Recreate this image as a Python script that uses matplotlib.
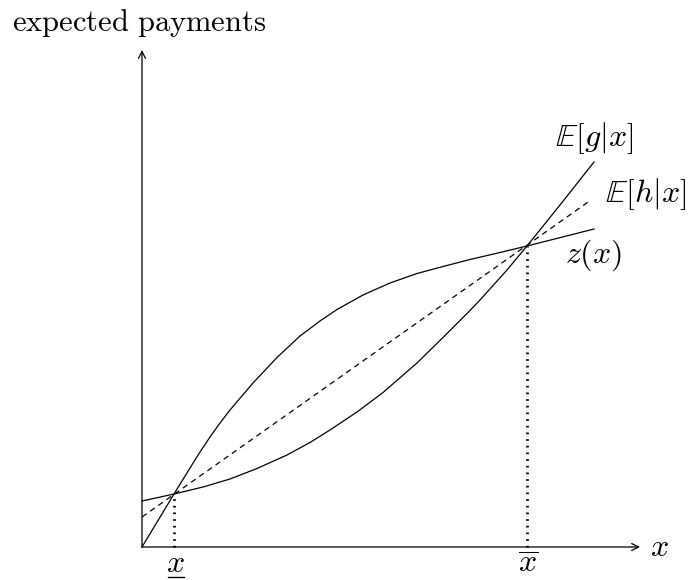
import matplotlib.pyplot as plt

plt.rcParams["mathtext.fontset"] = "cm"

# payment schedule z(x), concave, through both crossing points
z_x = [0.00, 0.32, 0.48, 0.58, 0.68, 0.78, 0.88, 1.11, 1.35, 1.58, 1.78, 1.95, 2.21, 2.48, 2.75, 3.01, 3.28, 3.58, 3.85, 4.52]
z_y = [0.00, 0.53, 0.79, 0.95, 1.10, 1.24, 1.37, 1.64, 1.895, 2.11, 2.26, 2.375, 2.52, 2.64, 2.735, 2.805, 2.875, 2.945, 3.01, 3.18]

# E[g|x], convex
g_x = [0.00, 0.32, 0.61, 0.88, 1.15, 1.45, 1.68, 1.88, 2.15, 2.41, 2.75, 3.01, 3.28, 3.38, 3.65, 3.85, 4.18, 4.52]
g_y = [0.46, 0.53, 0.60, 0.68, 0.785, 0.92, 1.045, 1.17, 1.35, 1.545, 1.84, 2.095, 2.365, 2.47, 2.77, 3.01, 3.42, 3.85]

# E[h|x], linear
h_x = [0.00, 4.49]
h_y = [0.30, 3.47]

# crossing points x_lo / x_hi
cross_x = [0.32, 3.85]
cross_y = [0.53, 3.01]

fig = plt.figure(figsize=(6.88, 5.8), dpi=100)
ax = fig.add_axes([0, 0, 1, 1])
ax.set_xlim(-1.42, 5.46)
ax.set_ylim(-0.33, 5.47)
ax.axis("off")

arrow = dict(arrowstyle="->,head_length=0.5,head_width=0.25", lw=0.9, color="black",
             shrinkA=0, shrinkB=0)
ax.annotate("", xy=(4.98, 0), xytext=(0, 0), arrowprops=arrow)
ax.annotate("", xy=(0, 4.97), xytext=(0, 0), arrowprops=arrow)

ax.plot(z_x, z_y, color="black", lw=0.9, solid_joinstyle="round")
ax.plot(g_x, g_y, color="black", lw=0.9, solid_joinstyle="round")
ax.plot(h_x, h_y, color="black", lw=0.9, linestyle=(0, (4.5, 3.5)))

for cx, cy in zip(cross_x, cross_y):
    ax.plot([cx, cx], [0, cy], color="black", lw=2.0, linestyle=(0, (0.6, 1.8)))

fs = 23
# lower bound: x with a bar underneath (mathtext has no \underline)
ax.text(cross_x[0] + 0.01, -0.25, r"$x$", fontsize=fs, ha="center", va="baseline")
ax.plot([cross_x[0] - 0.06, cross_x[0] + 0.10], [-0.295, -0.295], color="black", lw=1.0)
ax.text(cross_x[1] + 0.01, -0.255, r"$\overline{x}$", fontsize=fs, ha="center", va="baseline")

ax.text(-1.30, 5.16, r"$\mathrm{expected\ payments}$", fontsize=22, ha="left", va="baseline")
ax.text(5.17, 0.0, r"$x$", fontsize=fs, ha="center", va="center")
ax.text(4.52, 4.09, r"$\mathbb{E}[g|x]$", fontsize=fs, ha="center", va="center")
ax.text(4.63, 3.53, r"$\mathbb{E}[h|x]$", fontsize=fs, ha="left", va="center")
ax.text(4.51, 2.92, r"$z(x)$", fontsize=fs, ha="center", va="center")

fig.savefig("out.png", dpi=100)
